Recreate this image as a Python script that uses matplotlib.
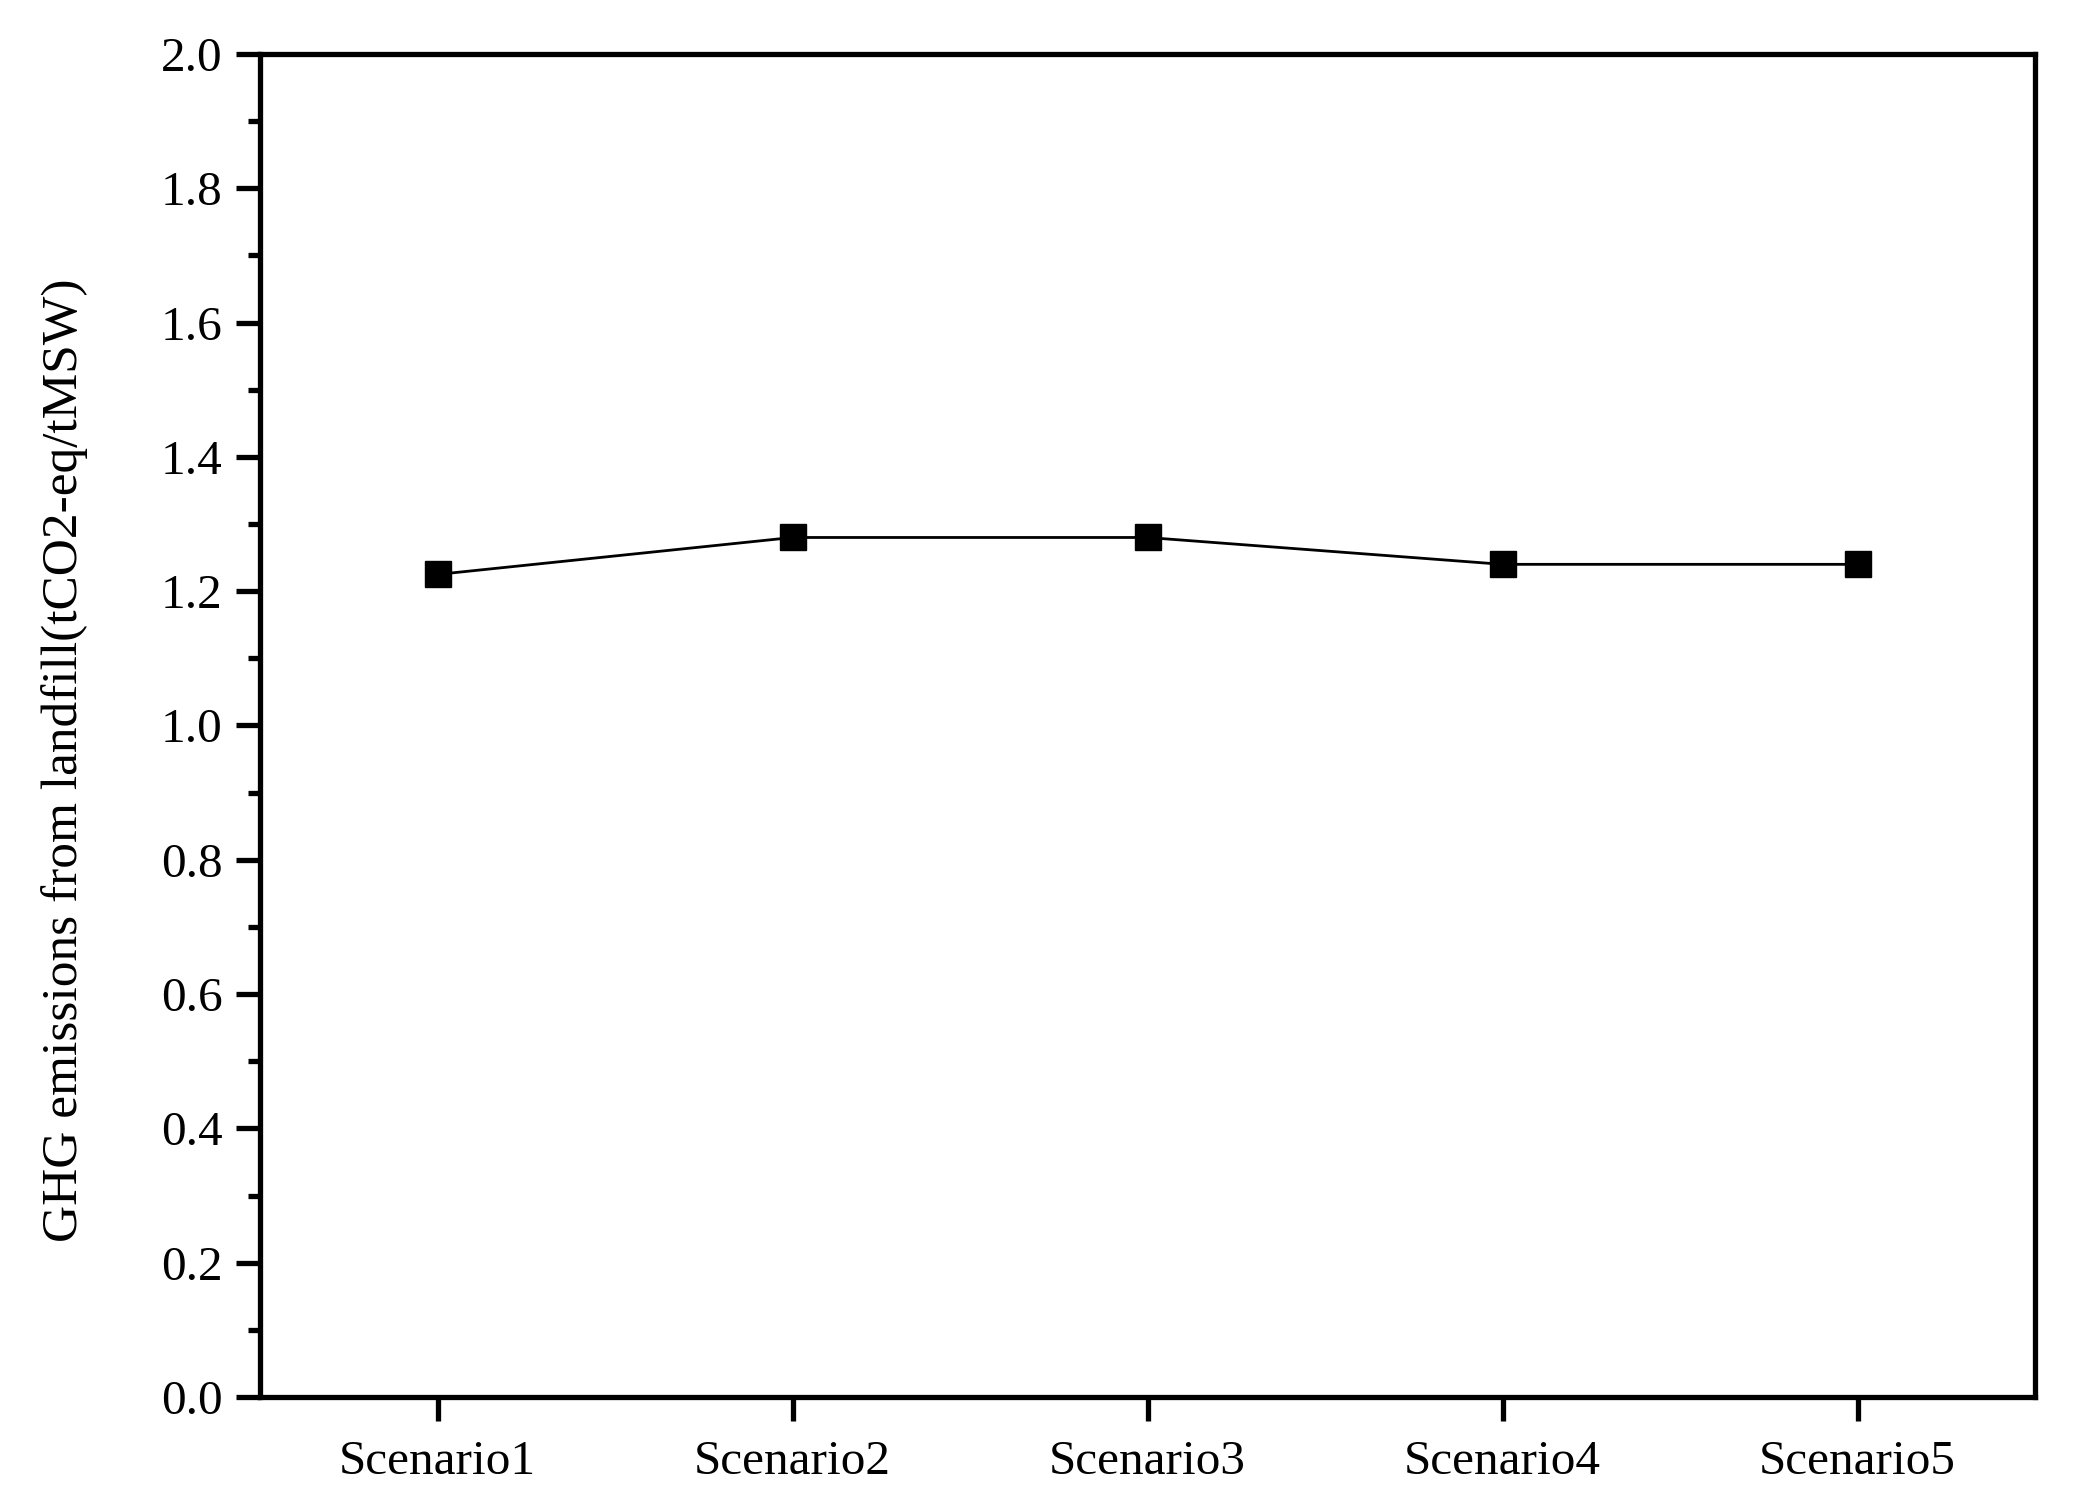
import matplotlib
matplotlib.use("Agg")
import matplotlib.pyplot as plt
from matplotlib.ticker import MultipleLocator

plt.rcParams['font.family'] = ['Liberation Serif', 'DejaVu Serif']

# data
scenarios = ["Scenario1", "Scenario2", "Scenario3", "Scenario4", "Scenario5"]
ghg = [1.225, 1.28, 1.28, 1.24, 1.24]

fig = plt.figure(figsize=(20.75, 15.12), dpi=100)
ax = fig.add_axes([260/2075, 1-1397/1512, 1775/2075, 1343/1512])

x = list(range(1, len(scenarios)+1))
ax.plot(x, ghg, color='black', linewidth=2, marker='s', markersize=19,
        markerfacecolor='black', markeredgecolor='black')

ax.set_xlim(0.5, 5.5)
ax.set_ylim(0, 2.0)
ax.set_xticks(x)
ax.set_xticklabels(scenarios)
ax.yaxis.set_major_locator(MultipleLocator(0.2))
ax.yaxis.set_minor_locator(MultipleLocator(0.1))
ax.yaxis.set_major_formatter(matplotlib.ticker.FormatStrFormatter('%.1f'))

for s in ax.spines.values():
    s.set_linewidth(3.8)
ax.tick_params(axis='both', which='major', direction='out', length=17, width=3.8,
               labelsize=35.5, pad=10)
ax.tick_params(axis='y', which='minor', direction='out', length=9, width=3.8)
ax.tick_params(axis='x', pad=14)

ax.set_ylabel("GHG emissions from landfill(tCO2-eq/tMSW)", fontsize=37)
ax.yaxis.set_label_coords(-0.097, 0.474)

fig.savefig("out.png", dpi=100)
